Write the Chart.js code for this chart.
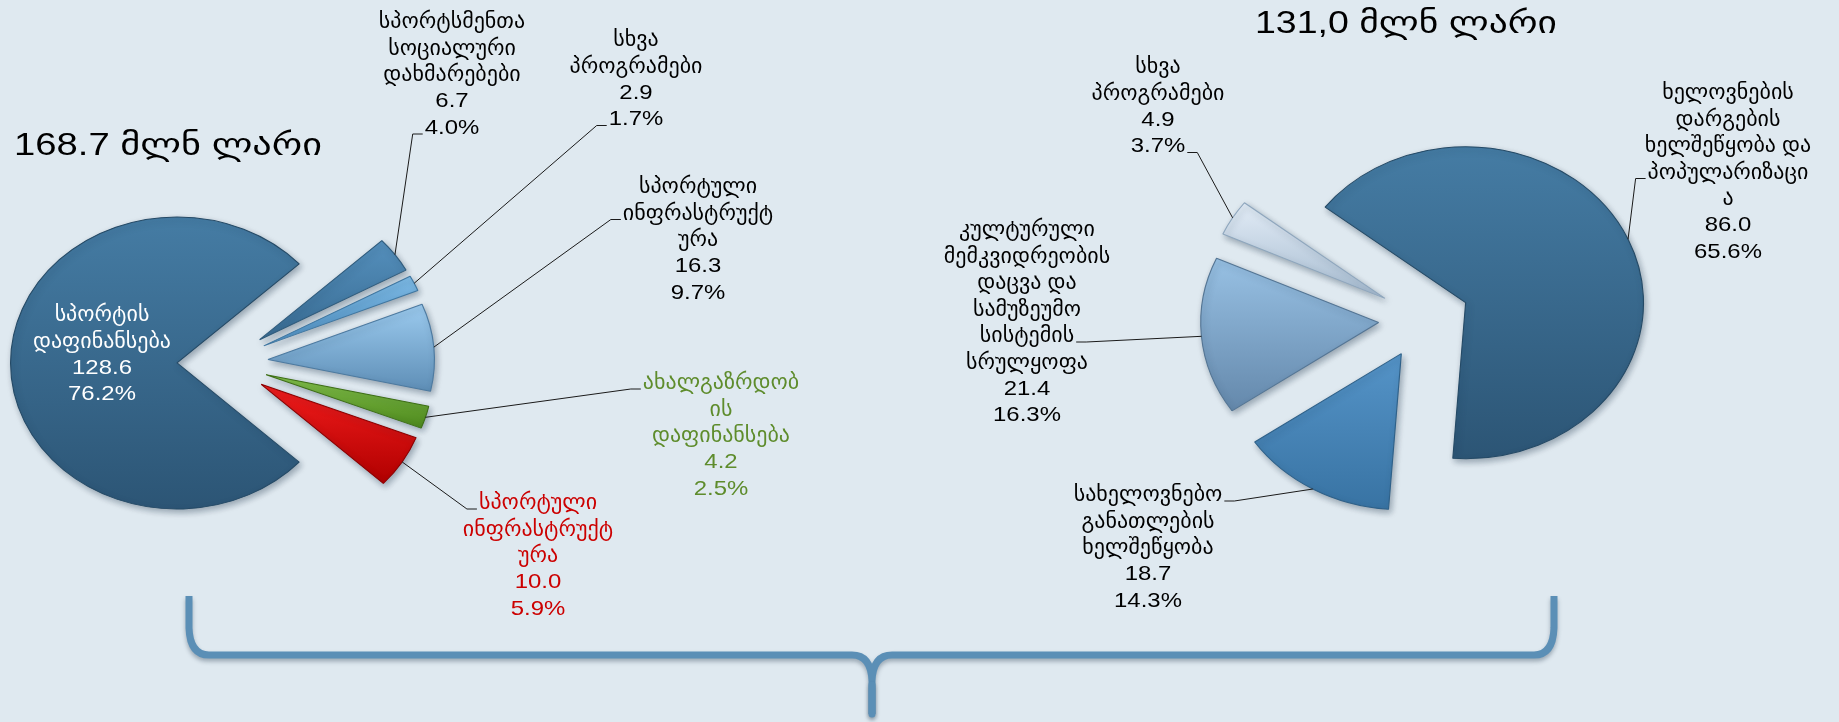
<!DOCTYPE html>
<html lang="ka">
<head>
<meta charset="utf-8">
<title>სპორტისა და კულტურის დაფინანსება</title>
<script src="https://cdn.jsdelivr.net/npm/chart.js@4.4.1/dist/chart.umd.min.js"></script>
<style>
  html, body { margin: 0; padding: 0; background: #dfe9f0; }
  #wrap { position: relative; width: 1839px; height: 722px; overflow: hidden; }
  #wrap canvas { position: absolute; left: 0; top: 0; }
</style>
</head>
<body>
<div id="wrap">
  <canvas id="sportChart" width="1839" height="722"></canvas>
  <canvas id="cultureChart" width="1839" height="722"></canvas>
</div>
<script>
// ---- data: sport (left pie), mln GEL ----
const sportTotalText = '168.7 მლნ ლარი';
const sportCategories = [
  ['სპორტის', 'დაფინანსება'],
  ['სპორტსმენთა', 'სოციალური', 'დახმარებები'],
  ['სხვა', 'პროგრამები'],
  ['სპორტული', 'ინფრასტრუქტ', 'ურა'],
  ['ახალგაზრდობ', 'ის', 'დაფინანსება'],
  ['სპორტული', 'ინფრასტრუქტ', 'ურა']
];
const sportValues = [128.6, 6.7, 2.9, 16.3, 4.2, 10.0];

// ---- data: culture (right pie), mln GEL ----
const cultureTotalText = '131,0 მლნ ლარი';
const cultureCategories = [
  ['ხელოვნების', 'დარგების', 'ხელშეწყობა და', 'პოპულარიზაცი', 'ა'],
  ['სახელოვნებო', 'განათლების', 'ხელშეწყობა'],
  ['კულტურული', 'მემკვიდრეობის', 'დაცვა და', 'სამუზეუმო', 'სისტემის', 'სრულყოფა'],
  ['სხვა', 'პროგრამები']
];
const cultureValues = [86.0, 18.7, 21.4, 4.9];

// ---- styles ----
// [top colour, bottom colour, edge colour]
const sportShades = [
  ['#457ca4', '#2c5575', '#254a66'],
  ['#5590bd', '#386b92', '#2f5b7c'],
  ['#7ebbe6', '#4d8dbf', '#3f76a0'],
  ['#9ccbef', '#5e8eb6', '#4d7aa0'],
  ['#84c24a', '#4c871c', '#3d6e15'],
  ['#f21c1c', '#b00000', '#8c0000']
];
const cultureShades = [
  ['#457ca4', '#2c5575', '#254a66'],
  ['#5594c8', '#3873a3', '#2f6189'],
  ['#98c1e4', '#6488ab', '#547594'],
  ['#e2ecf6', '#a6bbd0', '#8ea6bd']
];

// label placement: centre x, first line y, leader side and line it leaves from
const sportLabelSpots = [
  { x: 102, y: 315, color: '#ffffff' },
  { x: 452, y: 22, side: 'left', line: 4 },
  { x: 636, y: 40, side: 'left', line: 3 },
  { x: 698, y: 187, side: 'left', line: 1 },
  { x: 721, y: 383, side: 'left', line: 0, color: '#5e8c2c' },
  { x: 538, y: 503, side: 'left', line: 0, color: '#cc0000' }
];
const cultureLabelSpots = [
  { x: 1728, y: 93, side: 'left', line: 3 },
  { x: 1148, y: 495, side: 'right', line: 0 },
  { x: 1027, y: 230, side: 'right', line: 4 },
  { x: 1158, y: 67, side: 'right', line: 3 }
];

const SX = 1.14;        // horizontal stretch of both pies
const EXPLODE = 40;     // every slice pulled out from the centre by this much
const FONT = '"Liberation Sans", "DejaVu Sans", sans-serif';
const NUM_SIZE = 21;    // digits
const WORD_SIZE = 22;   // georgian words
const LINE_H = 26.5;
const NUM_SX = 1.14;    // numbers are drawn a little wide
const TAU = Math.PI * 2;

function inArc(t, a0, a1) {
  let d = (t - a0) % TAU;
  if (d < 0) d += TAU;
  return d <= a1 - a0;
}

// vertical extent of a slice, used for its top-to-bottom shading
function sliceYRange(arc) {
  const { y, outerRadius: r, startAngle: a0, endAngle: a1 } = arc;
  const ys = [y, y + r * Math.sin(a0), y + r * Math.sin(a1)];
  let lo = Math.min(...ys), hi = Math.max(...ys);
  if (inArc(-Math.PI / 2, a0, a1)) lo = y - r;
  if (inArc(Math.PI / 2, a0, a1)) hi = y + r;
  return [lo, hi];
}

function sliceFill(shades) {
  return (c) => {
    const s = shades[c.dataIndex];
    const arc = c.chart.getDatasetMeta(c.datasetIndex).data[c.dataIndex];
    if (!arc || typeof arc.startAngle !== 'number' || typeof arc.y !== 'number') return s[1];
    const [lo, hi] = sliceYRange(arc);
    const g = c.chart.ctx.createLinearGradient(0, lo, 0, hi);
    g.addColorStop(0, s[0]);
    g.addColorStop(1, s[1]);
    return g;
  };
}

function isNumeric(t) { return /^[\d.,%]+$/.test(t); }

function lineFont(t) { return `${isNumeric(t) ? NUM_SIZE : WORD_SIZE}px ${FONT}`; }

function drawStretchedText(ctx, t, x, y, sx) {
  ctx.save();
  ctx.translate(x, y);
  ctx.scale(sx, 1);
  ctx.fillText(t, 0, 0);
  ctx.restore();
}

// pies drawn wider than tall, every slice exploded by the same distance
const explodedPie = {
  id: 'explodedPie',
  beforeDatasetDraw(chart, args) {
    const ctx = chart.ctx;
    const arcs = args.meta.data;
    if (!arcs.length) return;
    const cx = arcs[0].x;
    ctx.save();
    ctx.translate(cx, 0);
    ctx.scale(SX, 1);
    ctx.translate(-cx, 0);
    ctx.shadowColor = 'rgba(20, 40, 60, 0.35)';
    ctx.shadowBlur = 6;
    ctx.shadowOffsetX = 2;
    ctx.shadowOffsetY = 3;
    arcs.forEach(arc => {
      const mid = (arc.startAngle + arc.endAngle) / 2;
      ctx.save();
      ctx.translate(Math.cos(mid) * EXPLODE, Math.sin(mid) * EXPLODE);
      arc.draw(ctx, chart.chartArea);
      ctx.restore();
    });
    ctx.restore();
    return false;
  },
  afterDraw(chart, args, opts) {
    const ctx = chart.ctx;
    const arcs = chart.getDatasetMeta(0).data;
    const values = chart.data.datasets[0].data;
    const total = values.reduce((s, v) => s + v, 0);
    const cx = arcs[0].x;

    ctx.save();
    // total above the pie, fitted to its width
    ctx.font = `31px ${FONT}`;
    ctx.textAlign = 'left';
    ctx.textBaseline = 'alphabetic';
    ctx.fillStyle = '#000';
    const tw = ctx.measureText(opts.title).width;
    ctx.save();
    ctx.translate(opts.titleX, opts.titleY);
    ctx.scale(opts.titleWidth / tw, 1);
    ctx.fillText(opts.title, 0, 0);
    ctx.restore();

    ctx.textAlign = 'center';
    ctx.textBaseline = 'middle';
    ctx.lineWidth = 1;
    ctx.strokeStyle = '#1a1a1a';

    opts.categories.forEach((lines, i) => {
      const spot = opts.spots[i];
      const text = lines.concat([values[i].toFixed(1), (values[i] / total * 100).toFixed(1) + '%']);
      ctx.fillStyle = spot.color || '#000000';
      text.forEach((t, k) => {
        ctx.font = lineFont(t);
        drawStretchedText(ctx, t, spot.x, spot.y + k * LINE_H, isNumeric(t) ? NUM_SX : 1);
      });
      if (!spot.side) return;

      // leader line: short tick beside the label, then to the middle of the slice rim
      const arc = arcs[i];
      const mid = (arc.startAngle + arc.endAngle) / 2;
      const reach = EXPLODE + arc.outerRadius;
      const tx = cx + (arc.x + Math.cos(mid) * reach - cx) * SX;
      const ty = arc.y + Math.sin(mid) * reach;
      const t = text[spot.line];
      ctx.font = lineFont(t);
      const w = ctx.measureText(t).width * (isNumeric(t) ? NUM_SX : 1);
      const dir = spot.side === 'left' ? -1 : 1;
      const ax = spot.x + dir * (w / 2 + 2);
      const ay = spot.y + spot.line * LINE_H + 6;
      ctx.beginPath();
      ctx.moveTo(ax, ay);
      ctx.lineTo(ax + dir * 10, ay);
      ctx.lineTo(tx, ty);
      ctx.stroke();
    });
    ctx.restore();
  }
};

// curly brace joining the two pies
const braceDecor = {
  id: 'braceDecor',
  afterDraw(chart) {
    const ctx = chart.ctx;
    const y = 655, top = 596, mid = 872, tip = 714;
    const left = 189, right = 1554;
    ctx.save();
    ctx.strokeStyle = '#5b8fb6';
    ctx.lineWidth = 7;
    ctx.lineJoin = 'round';
    ctx.shadowColor = 'rgba(30, 50, 70, 0.35)';
    ctx.shadowBlur = 4;
    ctx.shadowOffsetY = 3;
    ctx.beginPath();
    ctx.moveTo(left, top);
    ctx.lineTo(left, 628);
    ctx.quadraticCurveTo(left + 1, y, left + 20, y);
    ctx.lineTo(mid - 20, y);
    ctx.quadraticCurveTo(mid - 1, y, mid, y + 26);
    ctx.lineTo(mid, tip);
    ctx.moveTo(right, top);
    ctx.lineTo(right, 628);
    ctx.quadraticCurveTo(right - 1, y, right - 20, y);
    ctx.lineTo(mid + 20, y);
    ctx.quadraticCurveTo(mid + 1, y, mid, y + 26);
    ctx.stroke();
    ctx.lineCap = 'round';
    ctx.beginPath();
    ctx.moveTo(mid, y + 30);
    ctx.lineTo(mid, tip);
    ctx.stroke();
    ctx.restore();
  }
};

function makePie(id, values, categories, shades, spots, opts) {
  const chart = new Chart(document.getElementById(id), {
    type: 'pie',
    data: {
      labels: categories.map(l => l.join(' ')),
      datasets: [{
        data: values,
        backgroundColor: sliceFill(shades),
        borderColor: shades.map(s => s[2]),
        borderWidth: 1,
        clip: false
      }]
    },
    options: {
      responsive: false,
      animation: false,
      events: [],
      devicePixelRatio: 1,
      rotation: opts.rotation,
      radius: opts.radius,
      layout: { padding: opts.padding },
      plugins: {
        legend: { display: false },
        tooltip: { enabled: false },
        explodedPie: {
          title: opts.title,
          titleX: opts.titleX,
          titleY: opts.titleY,
          titleWidth: opts.titleWidth,
          categories: categories,
          spots: spots
        }
      }
    },
    plugins: opts.extra ? [explodedPie, opts.extra] : [explodedPie]
  });
  // second pass: slice geometry is known now, so the shading can follow each slice
  chart.update();
  return chart;
}

// left pie centred at (222.6, 363), right pie at (1424, 319)
makePie('sportChart', sportValues, sportCategories, sportShades, sportLabelSpots, {
  rotation: 132.8,
  radius: 146,
  padding: { left: 0, top: 4, right: 1393.8, bottom: 0 },
  title: sportTotalText, titleX: 14, titleY: 155, titleWidth: 308,
  extra: braceDecor
});

makePie('cultureChart', cultureValues, cultureCategories, cultureShades, cultureLabelSpots, {
  rotation: -52.2,
  radius: 156,
  padding: { left: 1009, top: 0, right: 0, bottom: 84 },
  title: cultureTotalText, titleX: 1255, titleY: 33, titleWidth: 302
});
</script>
</body>
</html>
